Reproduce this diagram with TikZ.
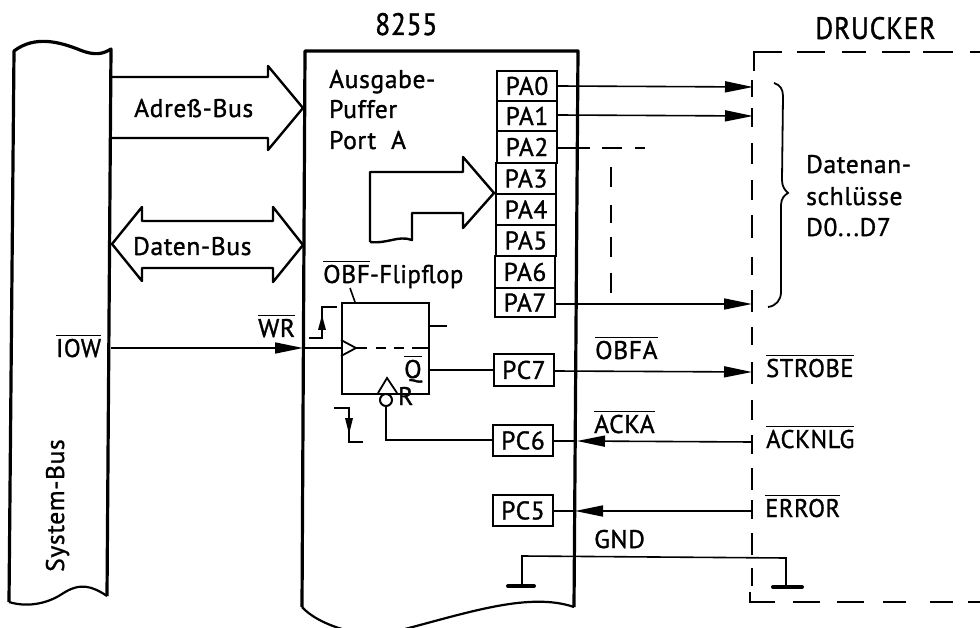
\documentclass[tikz,border=0pt]{standalone}
\usepackage{fontspec}
\setmainfont{PT Sans}[FakeBold=1.2,LetterSpace=2.5]
\usetikzlibrary{arrows.meta}
\newcommand\ovl[1]{\leavevmode\vbox{\hrule height 1.4pt \kern 2.5pt\hbox{#1}}}
\newcommand\nrw[1]{\scalebox{.89}[1]{#1}}
\newcommand\nrx[1]{\scalebox{.96}[1]{#1}}
\tikzset{
 txt/.style={anchor=base west,inner sep=0pt,font=\fontsize{25.5}{25.5}\selectfont},
 big/.style={anchor=base west,inner sep=0pt,font=\fontsize{31}{31}\selectfont},
 port/.style={draw,line width=1.9pt,minimum width=60pt,inner sep=0pt,font=\fontsize{25.5}{25.5}\selectfont},
 thickl/.style={line width=3.2pt,line join=round},
 bus/.style={line width=2.4pt,line join=round},
 wire/.style={line width=1.6pt},
 dsh/.style={line width=1.8pt},
 tipa/.style={-{Triangle[length=28pt,width=11pt]},line width=1.6pt},
 gnd/.style={line width=4pt,line cap=round}
}
\begin{document}
\begin{tikzpicture}[x=1pt,y=-1pt]
\useasboundingbox (0,0) rectangle (980,628);
% system bus
\draw[thickl] (9,602) -- (14,51) .. controls (35,35) and (60,42) .. (80,50) .. controls (95,56) and (103,54) .. (111,49) -- (107,596);
\draw[line width=2.2pt] (9,602) .. controls (25,607) and (45,605) .. (62,594) .. controls (80,582) and (92,586) .. (107,596);
\node[txt,rotate=90] (sb) at (64,572) {System-Bus};
\node[txt] (iow) at (56,357) {\ovl{\nrx{IOW}}};
% 8255
\draw[thickl] (302,607) -- (305,51) -- (578,51) -- (574,607);
\draw[line width=2.2pt] (302,607) .. controls (310,616) and (325,624) .. (342,629);
\draw[line width=2.2pt] (405,629) .. controls (470,612) and (530,592) .. (574,607);
\node[big] (t1) at (375,35) {\nrw{8255}};
\node[big] (t2) at (815,39) {\nrw{DRUCKER}};
\node[txt] at (329,88) {Ausgabe-};
\node[txt] at (329,118) {Puffer};
\node[txt] at (329,149) {Port\ \ A};
% buses
\draw[bus] (112,77) -- (268,77) -- (268,66) -- (303,108) -- (268,150) -- (268,138) -- (112,138);
\node[txt] (ab) at (134,117) {Adreß-Bus};
\draw[bus] (112,244) -- (142,207) -- (142,221) -- (273,221) -- (273,207) -- (303,245) -- (273,282) -- (273,268) -- (142,268) -- (142,281) -- cycle;
\node[txt] (db) at (133,255) {Daten-Bus};
\draw[bus] (370,242) -- (370,172) -- (463,172) -- (463,157) -- (494,193) -- (463,228) -- (463,213) -- (412,213) -- (412,240) .. controls (398,235) and (388,244) .. (370,242);
% PA ports
\foreach \n/\a/\b/\l in {0/70/100/496,1/100/130/496,2/130/162/496,3/162/193/495,4/193/224/495,5/224/255/495,6/255/287/494,7/287/316/494}{
 \node[port,anchor=north west,minimum height={(\b-\a)*1pt}] (pa\n) at (\l,\a) {PA\n};
}
% PC ports
\node[port,anchor=north west,minimum height=32pt] (pc7) at (493,353) {PC7};
\node[port,anchor=north west,minimum height=31pt] (pc6) at (492,424) {PC6};
\node[port,anchor=north west,minimum height=31pt] (pc5) at (492,494) {PC5};
% flipflop
\node[draw,line width=2.2pt,anchor=north west,minimum width=87pt,minimum height=91pt,inner sep=0pt] (ff) at (341,302) {};
\draw[wire] (350,288) -- (355,302);
\node[txt] at (323,283) {\ovl{OBF}\nrx{-Flipflop}};
\draw[wire] (428,326) -- (447,326);
\draw[line width=1.8pt] (341,340) -- (356,348) -- (341,356);
\draw[dsh] (356,348) -- (367,348) (376,348) -- (386,348) (394,348) -- (404,348) (412,348) -- (428,348);
\node[txt] at (404,378) {\ovl{Q}};
\node[txt] at (398,405) {R};
\draw[line width=1.8pt] (378,393) -- (387,378) -- (397,393);
\node[draw,circle,line width=2pt,minimum size=12pt,inner sep=0pt] (rc) at (386,400) {};
\draw[wire] (rc.south) -- (386,440) -- (pc6.west |- 0,440);
\draw[wire] (ff.east |- 0,370) -- (pc7.west |- 0,370);
% edges
\draw[line width=1.5pt] (309,338) -- (322,338) -- (322,307) -- (337,307);
\fill (322,315) -- (326,330) -- (318,330) -- cycle;
\draw[line width=1.5pt] (334,408) -- (349,408) -- (349,442) -- (363,442);
\fill (349,434) -- (345,418) -- (353,418) -- cycle;
% IOW wire
\coordinate (iowa) at (111,348);
\coordinate (wrt) at (303,348);
\draw[tipa] (iowa) -- (wrt);
\draw[wire] (wrt) -- (ff.west |- 0,348);
\node[txt] at (258,337) {\ovl{WR}};
% drucker outline
\draw[dsh] (782,52) -- (754,52) -- (754,71);
\foreach \a/\b in {797/825,842/866,882/910,923/953,970/980}{\draw[dsh] (\a,52) -- (\b,52);}
\foreach \a/\b in {80/97,108/127,143/164,180/200,215/238,257/275,290/312,327/345,362/384,400/420,435/454,468/490,500/519,533/555,568/586}{\draw[dsh] (752,\a) -- (752,\b);}
\draw[dsh] (750,592) -- (750,602) -- (775,602);
\foreach \a/\b in {793/820,837/864,883/906,930/953,968/980}{\draw[dsh] (\a,602) -- (\b,602);}
% outputs
\coordinate (d0) at (753,87);
\coordinate (d1) at (753,116);
\coordinate (d7) at (752,304);
\coordinate (ds) at (752,372);
\coordinate (da) at (752,442);
\coordinate (de) at (752,511);
\coordinate (ta) at (577,441);
\coordinate (te) at (575,511);
\draw[tipa] (pa0.east |- 0,86) -- (d0);
\draw[tipa] (pa1.east |- 0,115) -- (d1);
\draw[tipa] (pa7.east |- 0,304) -- (d7);
\draw[tipa] (pc7.east |- 0,371) -- (ds);
\draw[tipa] (da) -- (ta);
\draw[wire] (ta) -- (pc6.east |- ta);
\draw[tipa] (de) -- (te);
\draw[wire] (te) -- (pc5.east |- te);
% PA2 dashed
\draw[dsh] (pa2.east |- 0,148) -- (590,148) (602,148) -- (622,148) (635,148) -- (645,148);
\draw[dsh] (611,167) -- (611,187) (611,205) -- (611,223) (611,237) -- (611,257) (611,273) -- (611,293);
% brace
\draw[line width=1.8pt] (774,83) .. controls (780,85) and (783,89) .. (783,96) -- (782,180) .. controls (782,187) and (785,190) .. (788,193) .. controls (785,195) and (781,198) .. (781,205) -- (781,292) .. controls (781,300) and (776,306) .. (768,307);
\node[txt] at (806,173) {Datenan-};
\node[txt] at (806,205) {schlüsse};
\node[txt] at (806,236) {D0...D7};
% signal labels
\node[txt] at (595,359) {\ovl{OBFA}};
\node[txt] at (594,433) {\ovl{ACKA}};
\node[txt] at (594,548) {GND};
\node[txt] at (766,377) {\ovl{\nrx{STROBE}}};
\node[txt] at (766,448) {\ovl{\nrx{ACKNLG}}};
\node[txt] at (765,517) {\ovl{\nrx{ERROR}}};
% ground
\coordinate (gl) at (522,556);
\coordinate (gr) at (786,558);
\draw[wire] (522,586) -- (gl) -- (gr) -- (786,587);
\draw[gnd] (508,586) -- (534,586);
\draw[gnd] (773,587) -- (802,587);
\end{tikzpicture}
\end{document}
